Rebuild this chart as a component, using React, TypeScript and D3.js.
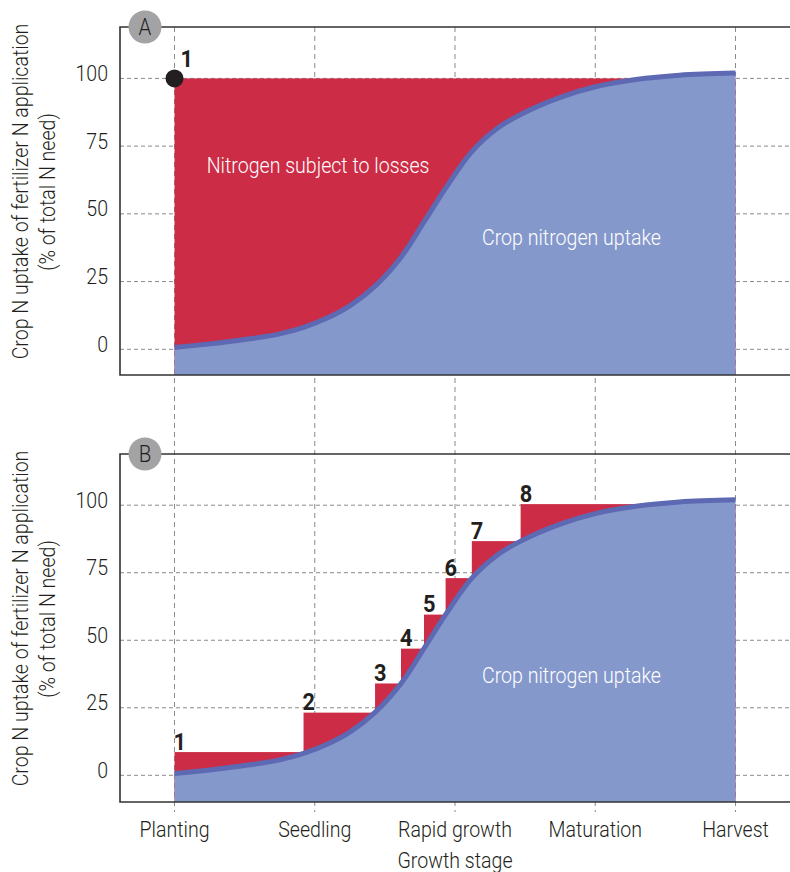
import React from "react";
import * as d3 from "d3";

// ---- data ----
const stages = ["Planting", "Seedling", "Rapid growth", "Maturation", "Harvest"];
const yTicks = [0, 25, 50, 75, 100];

// crop N uptake curve (stage index, % of total need)
const uptakeStage = [0, 0.25, 0.5, 0.75, 0.92, 1.1, 1.25, 1.43, 1.615, 1.779, 1.933, 2.12, 2.3, 2.468, 2.75, 3.0, 3.29, 3.6, 4.0];
const uptakeValue = [0.7, 2.0, 3.6, 5.7, 8.1, 11.8, 16.0, 23.3, 34, 47, 59.5, 73, 81.5, 86.7, 93, 96.9, 99.6, 101.2, 102];

// panel A: single application at planting
const singleStage = [0];
const singleValue = [100];
const singleLabel = ["1"];

// panel B: split applications
const splitStage = [0, 0.92, 1.43, 1.615, 1.779, 1.933, 2.12, 2.468];
const splitValue = [8.6, 23.2, 34, 46.9, 59.5, 73, 86.7, 100.4];
const splitLabel = ["1", "2", "3", "4", "5", "6", "7", "8"];

const xAxisTitle = "Growth stage";
const yTitle1 = "Crop N uptake of fertilizer N application";
const yTitle2 = "(% of total N need)";
const lossesLabel = "Nitrogen subject to losses";
const uptakeLabel = "Crop nitrogen uptake";

// ---- styling ----
const W = 790;
const H = 872;
const RED = "#cc2c46";
const BLUE = "#8598cc";
const LINE = "#5d69b2";
const INK = "#231f20";
const GRID = "#8a8a8a";
const FONT = "Roboto, 'Open Sans', sans-serif";
const SX = 0.89;

const frameLeft = 120;
const panels = [
  { key: "A", top: 27, bottom: 375, y0: 349.3, y100: 78.4, lossesText: true, uptakeY: 245, titleY: 191.5 },
  { key: "B", top: 454, bottom: 802, y0: 775.3, y100: 505.2, lossesText: false, uptakeY: 683, titleY: 618.5 },
];

const x = d3.scaleLinear().domain([0, stages.length - 1]).range([174.5, 735.5]);

const uptake = uptakeStage.map((s, i) => ({ s, v: uptakeValue[i] }));

function T({ x, y, rot = 0, anchor = "start", size = 22, weight = 300, fill = INK, sx = SX, children }: any) {
  return (
    <text
      transform={`translate(${x},${y}) rotate(${rot}) scale(${sx},1)`}
      textAnchor={anchor}
      fontSize={size}
      fontWeight={weight}
      fill={fill}
      fontFamily={FONT}
    >
      {children}
    </text>
  );
}

function Panel({ p }: any) {
  const y = d3.scaleLinear().domain([0, 100]).range([p.y0, p.y100]);
  const area = d3
    .area<any>()
    .x((d) => x(d.s))
    .y0(p.bottom)
    .y1((d) => y(d.v))
    .curve(d3.curveCatmullRom.alpha(0.5));
  const line = d3
    .line<any>()
    .x((d) => x(d.s))
    .y((d) => y(d.v))
    .curve(d3.curveCatmullRom.alpha(0.5));

  const stS = p.key === "A" ? singleStage : splitStage;
  const stV = p.key === "A" ? singleValue : splitValue;
  const stL = p.key === "A" ? singleLabel : splitLabel;

  return (
    <g>
      {/* horizontal grid */}
      {yTicks.map((t) => (
        <line key={t} x1={frameLeft} x2={W} y1={y(t)} y2={y(t)} stroke={GRID} strokeWidth={1} strokeDasharray="4 3" />
      ))}
      {/* applied N (red) */}
      {stS.map((s, i) => (
        <rect
          key={i}
          x={x(s)}
          width={x(i < stS.length - 1 ? stS[i + 1] : stages.length - 1) - x(s)}
          y={y(stV[i])}
          height={p.bottom - y(stV[i])}
          fill={RED}
        />
      ))}
      {/* crop uptake */}
      <path d={area(uptake) || ""} fill={BLUE} />
      <path d={line(uptake) || ""} fill="none" stroke={LINE} strokeWidth={5} />
      {/* frame */}
      <path d={`M${W},${p.top}H${frameLeft}V${p.bottom}H${W}`} fill="none" stroke="#333" strokeWidth={1.6} />
      {/* y tick labels */}
      {yTicks.map((t) => (
        <T key={t} x={108} y={y(t) + 2.5} anchor="end">
          {t}
        </T>
      ))}
      {/* y title */}
      <T x={28} y={p.titleY} rot={-90} anchor="middle">
        {yTitle1}
      </T>
      <T x={55} y={p.titleY + 0.5} rot={-90} anchor="middle">
        {yTitle2}
      </T>
      {/* inner labels */}
      {p.lossesText && (
        <T x={206.7} y={173} fill="#fff">
          {lossesLabel}
        </T>
      )}
      <T x={482} y={p.uptakeY} fill="#fff">
        {uptakeLabel}
      </T>
      {/* application markers */}
      {p.key === "A" ? (
        <g>
          <circle cx={x(stS[0])} cy={y(stV[0])} r={9} fill={INK} />
          <T x={x(stS[0]) + 6} y={y(stV[0]) - 11} weight={700} size={23} sx={0.95}>
            {stL[0]}
          </T>
        </g>
      ) : (
        stS.map((s, i) => (
          <T key={i} x={x(s) - 1} y={y(stV[i]) - 2.5} weight={700} size={23} sx={0.95}>
            {stL[i]}
          </T>
        ))
      )}
      {/* badge */}
      <circle cx={145} cy={p.top} r={16.5} fill="#a3a3a6" />
      <T x={145} y={p.top + 8} anchor="middle" size={23}>
        {p.key}
      </T>
    </g>
  );
}

export default function App() {
  return (
    <svg width={W} height={H} style={{ position: "absolute", left: 0, top: 0, background: "#fff" }}>
      <rect width={W} height={H} fill="#fff" />
      {/* vertical stage grid lines spanning both panels */}
      {stages.map((s, i) => (
        <line key={s} x1={x(i)} x2={x(i)} y1={panels[0].top} y2={812} stroke={GRID} strokeWidth={1} strokeDasharray="5 4" />
      ))}
      {panels.map((p) => (
        <Panel key={p.key} p={p} />
      ))}
      {/* x labels */}
      {stages.map((s, i) => (
        <T key={s} x={x(i)} y={837} anchor="middle">
          {s}
        </T>
      ))}
      <T x={x(2)} y={868} anchor="middle">
        {xAxisTitle}
      </T>
    </svg>
  );
}
